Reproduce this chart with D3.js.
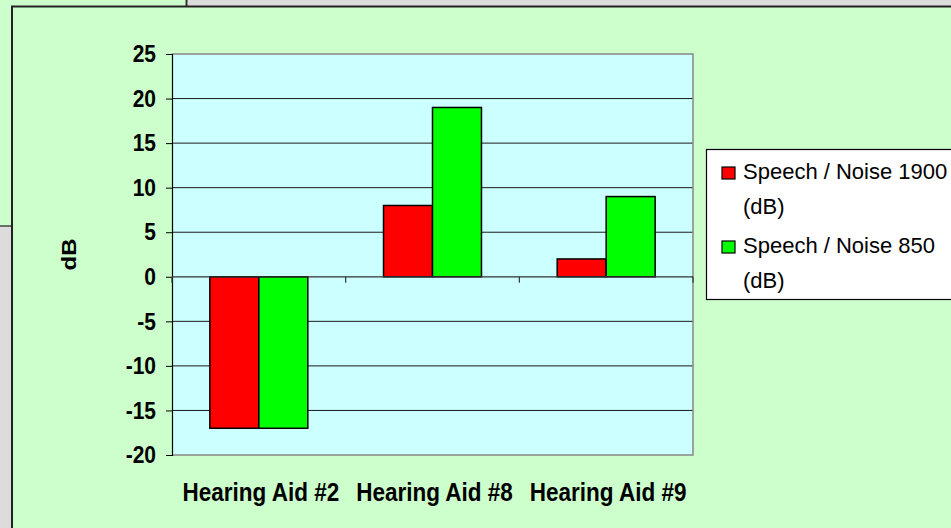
<!DOCTYPE html>
<html>
<head>
<meta charset="utf-8">
<script src="https://cdn.jsdelivr.net/npm/d3@7"></script>
<style>
body { margin: 0; background: #ccffcc; }
text { font-family: Arial, "Liberation Sans", sans-serif; }
</style>
</head>
<body>
<svg width="951" height="528"></svg>
<script>
// data
const categories = ['Hearing Aid #2', 'Hearing Aid #8', 'Hearing Aid #9'];
const speech1900 = [-17, 8, 2];
const speech850 = [-17, 19, 9];
const seriesNames = [['Speech / Noise 1900', '(dB)'], ['Speech / Noise 850', '(dB)']];
const seriesColors = ['#ff0000', '#00ff00'];
const yTicks = [25, 20, 15, 10, 5, 0, -5, -10, -15, -20];

const svg = d3.select('svg');
const stretch = 'scale(1,1.14)'; // axis text in the picture is a bit tall

// the slide bits behind the chart
svg.append('rect').attr('x', 186).attr('y', 0).attr('width', 800).attr('height', 7).attr('fill', '#dcdcdc');
svg.append('rect').attr('x', 0).attr('y', 226).attr('width', 12).attr('height', 310).attr('fill', '#dcdcdc');
svg.append('line').attr('x1', 186.5).attr('x2', 186.5).attr('y1', 0).attr('y2', 7).attr('stroke', '#333').attr('stroke-width', 2);
svg.append('line').attr('x1', 0).attr('x2', 12).attr('y1', 226).attr('y2', 226).attr('stroke', '#444').attr('stroke-width', 1.5);

// chart area
svg.append('rect').attr('x', 12).attr('y', 6.5).attr('width', 960).attr('height', 540)
  .attr('fill', '#ccffcc').attr('stroke', '#222').attr('stroke-width', 2);

const x = d3.scaleBand().domain(categories).range([172, 693]);
const xs = d3.scaleBand().domain([0, 1]).range([x.bandwidth() * 0.218, x.bandwidth() * 0.782]);
const y = d3.scaleLinear().domain([-20, 25]).range([455, 54]);

// plot area
svg.append('rect').attr('x', 172).attr('y', y(25)).attr('width', 693 - 172).attr('height', y(-20) - y(25))
  .attr('fill', '#ccffff');

// gridlines
svg.append('g').selectAll('line').data(yTicks.filter(d => d !== 25 && d !== -20 && d !== 0)).join('line')
  .attr('x1', 172).attr('x2', 693).attr('y1', d => y(d)).attr('y2', d => y(d))
  .attr('stroke', '#1a1a1a').attr('stroke-width', 1);

// grey border top/right/bottom
svg.append('path')
  .attr('d', `M172,${y(25)}H693V${y(-20)}H172`)
  .attr('fill', 'none').attr('stroke', '#888').attr('stroke-width', 1.5);

// bars
const data = categories.map((c, i) => [speech1900[i], speech850[i]]);
svg.append('g').selectAll('g').data(data).join('g')
  .attr('transform', (d, i) => `translate(${x(categories[i])},0)`)
  .selectAll('rect').data(d => d).join('rect')
  .attr('x', (d, j) => xs(j)).attr('width', xs.bandwidth())
  .attr('y', d => y(Math.max(0, d))).attr('height', d => Math.abs(y(d) - y(0)))
  .attr('fill', (d, j) => seriesColors[j]).attr('stroke', '#000').attr('stroke-width', 1.5);

// y axis
const yAxis = svg.append('g').attr('transform', 'translate(172,0)')
  .call(d3.axisLeft(y).tickValues(yTicks).tickFormat(d => String(d)).tickSize(6).tickPadding(10));
yAxis.select('.domain').attr('stroke', '#000').attr('stroke-width', 1.2);
yAxis.selectAll('.tick line').attr('stroke', '#000');
yAxis.selectAll('.tick text').attr('font-size', 21).attr('font-weight', 'bold')
  .attr('fill', '#000').attr('transform', stretch);

// zero line with category ticks
const xAxis = svg.append('g').attr('transform', `translate(0,${y(0)})`);
xAxis.append('line').attr('x1', 172).attr('x2', 693).attr('stroke', '#333').attr('stroke-width', 1.2);
xAxis.selectAll('.ct').data(categories.map(c => x(c)).concat([693])).join('line')
  .attr('x1', d => d).attr('x2', d => d).attr('y1', 0).attr('y2', 6)
  .attr('stroke', '#333').attr('stroke-width', 1.2);

// category labels
svg.append('g').selectAll('text').data(categories).join('text')
  .attr('transform', d => `translate(${x(d) + x.bandwidth() / 2 + 2},501) ${stretch}`)
  .attr('text-anchor', 'middle').attr('font-size', 22.5).attr('font-weight', 'bold')
  .text(d => d);

// y title
svg.append('text')
  .attr('transform', `translate(76,${(y(25) + y(-20)) / 2}) rotate(-90) scale(1.14,1)`)
  .attr('text-anchor', 'middle').attr('font-size', 21).attr('font-weight', 'bold')
  .text('dB');

// legend
const legend = svg.append('g');
legend.append('rect').attr('x', 706.5).attr('y', 149.5).attr('width', 300).attr('height', 150)
  .attr('fill', '#fff').attr('stroke', '#000').attr('stroke-width', 1.2);
const rowY = [179, 253];
seriesNames.forEach((lines, i) => {
  legend.append('rect').attr('x', 722).attr('y', rowY[i] - 12).attr('width', 13).attr('height', 12)
    .attr('fill', seriesColors[i]).attr('stroke', '#000').attr('stroke-width', 1.2);
  lines.forEach((t, k) => {
    legend.append('text').attr('x', 743).attr('y', rowY[i] + k * 35)
      .attr('font-size', 22).text(t);
  });
});
</script>
</body>
</html>
